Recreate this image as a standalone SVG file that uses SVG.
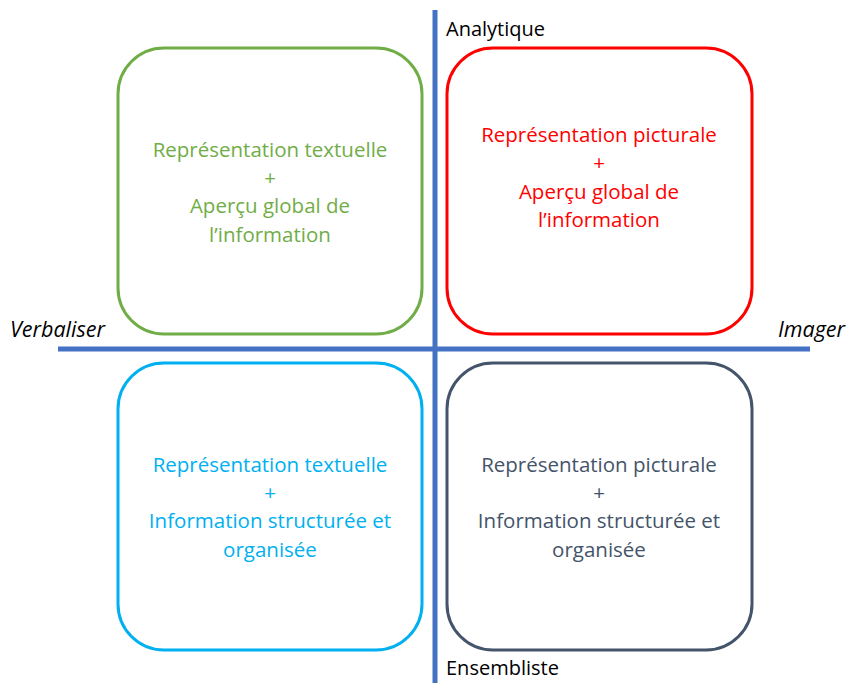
<svg xmlns="http://www.w3.org/2000/svg" width="846" height="683" viewBox="0 0 846 683">
<style>
.box{fill:#fff;stroke-width:3}
.t{font-family:"Open Sans","Liberation Sans",sans-serif;font-size:20.5px;text-anchor:middle}
.ax{font-family:"Open Sans","Liberation Sans",sans-serif;font-size:20px;fill:#000}
.it{font-style:italic;font-size:21.5px}
</style>
<rect width="846" height="683" fill="#fff"/>
<g id="axes">
<line x1="435" y1="10" x2="435" y2="683" stroke="#4472C4" stroke-width="5"/>
<line x1="58" y1="349" x2="810" y2="349" stroke="#4472C4" stroke-width="5"/>
</g>
<g id="green">
<rect class="box" x="118" y="48" width="304" height="286" rx="46" stroke="#70AD47"/>
<text class="t" fill="#70AD47"><tspan x="270" y="157">Représentation textuelle</tspan><tspan x="270" y="185">+</tspan><tspan x="270" y="213">Aperçu global de</tspan><tspan x="270" y="242">l’information</tspan></text>
</g>
<g id="red">
<rect class="box" x="447" y="48" width="305" height="286" rx="46" stroke="#FF0000"/>
<text class="t" fill="#FF0000"><tspan x="599" y="142">Représentation picturale</tspan><tspan x="599" y="170">+</tspan><tspan x="599" y="199">Aperçu global de</tspan><tspan x="599" y="227">l’information</tspan></text>
</g>
<g id="blue">
<rect class="box" x="118" y="363" width="304" height="287" rx="46" stroke="#00B0F0"/>
<text class="t" fill="#00B0F0"><tspan x="270" y="472">Représentation textuelle</tspan><tspan x="270" y="500">+</tspan><tspan x="270" y="528">Information structurée et</tspan><tspan x="270" y="557">organisée</tspan></text>
</g>
<g id="dark">
<rect class="box" x="447" y="363" width="305" height="287" rx="46" stroke="#44546A"/>
<text class="t" fill="#44546A"><tspan x="599" y="472">Représentation picturale</tspan><tspan x="599" y="500">+</tspan><tspan x="599" y="528">Information structurée et</tspan><tspan x="599" y="557">organisée</tspan></text>
</g>
<g id="labels">
<text class="ax" x="446" y="36">Analytique</text>
<text class="ax" x="446" y="675">Ensembliste</text>
<text class="ax it" x="10" y="337">Verbaliser</text>
<text class="ax it" x="845" y="337" text-anchor="end">Imager</text>
</g>
</svg>
